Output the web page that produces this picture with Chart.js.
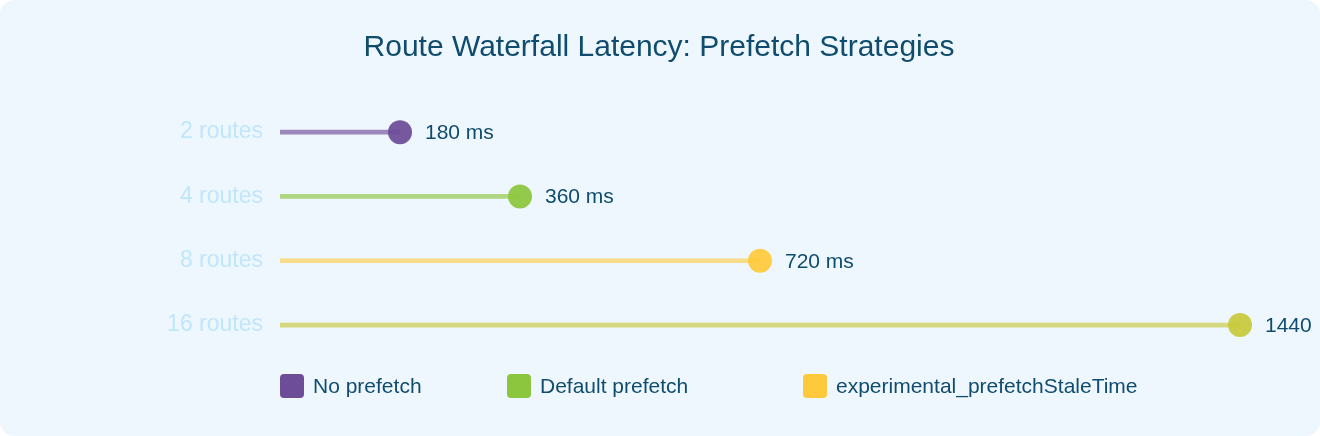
<!DOCTYPE html>
<html>
<head>
<meta charset="utf-8">
<script src="https://cdn.jsdelivr.net/npm/chart.js@4.4.1/dist/chart.umd.min.js"></script>
<style>
  html, body { margin: 0; padding: 0; background: #ffffff; }
  .card {
    position: relative;
    width: 1320px; height: 436px;
    background: #eff7fe;
    border-radius: 14px;
    overflow: hidden;
    font-family: "Liberation Sans", Arial, sans-serif;
  }
  #latencyChart { position: absolute; left: 0; top: 0; width: 1316px; height: 380px; }
  .legend { position: absolute; left: 280px; top: 374px; display: flex; }
  .legend .item { display: flex; align-items: center; font-size: 21px; color: #0f4c6e; height: 24px; }
  .legend .box { width: 24px; height: 24px; border-radius: 4px; margin-right: 9px; flex: none; }
</style>
</head>
<body>
<div class="card">
  <canvas id="latencyChart" width="1316" height="380"></canvas>
  <div class="legend" id="legend"></div>
</div>
<script>
// chart data
const routeCounts = ["2 routes", "4 routes", "8 routes", "16 routes"];
const latencyMs = [180, 360, 720, 1440];
const dotColors = ["#6d4c98", "#8cc63f", "#ffc93c", "#c8c83a"];
const stemColors = ["rgba(109,76,152,0.65)", "rgba(140,198,63,0.65)", "rgba(255,201,60,0.6)", "rgba(200,200,58,0.65)"];
const legendNames = ["No prefetch", "Default prefetch", "experimental_prefetchStaleTime"];
const legendColors = ["#6d4c98", "#8cc63f", "#ffc93c"];
const legendWidths = [227, 296, 420];

const FONT = "'Liberation Sans', Arial, sans-serif";

// value labels next to each dot
const valueLabels = {
    id: "valueLabels",
    afterDatasetsDraw(chart) {
        const ctx = chart.ctx;
        const meta = chart.getDatasetMeta(1);
        ctx.save();
        ctx.font = "21px " + FONT;
        ctx.fillStyle = "#0f4c6e";
        ctx.textBaseline = "middle";
        meta.data.forEach((pt, i) => {
            ctx.fillText(latencyMs[i] + " ms", pt.x + 25, pt.y + 1);
        });
        ctx.restore();
    }
};

let el = document.getElementById("latencyChart").getContext("2d");
let chart = new Chart(el, {
    data: {
        labels: routeCounts,
        datasets: [{
            type: "bar",
            data: latencyMs,
            backgroundColor: stemColors,
            barThickness: 4,
            order: 2
        }, {
            type: "line",
            data: latencyMs,
            showLine: false,
            clip: false,
            pointRadius: 12,
            pointHoverRadius: 12,
            pointBorderWidth: 0,
            pointBackgroundColor: dotColors.map(c => c + "ee"),
            order: 1
        }]
    },
    options: {
        indexAxis: "y",
        responsive: false,
        animation: false,
        layout: { padding: { left: 78, right: 76, top: 0, bottom: 4 } },
        plugins: {
            legend: { display: false },
            tooltip: { enabled: false },
            title: {
                display: true,
                text: "Route Waterfall Latency: Prefetch Strategies",
                color: "#0f4c6e",
                font: { family: FONT, size: 30, weight: "normal", lineHeight: 1.2 },
                padding: { top: 30, bottom: 34 }
            }
        },
        scales: {
            x: { min: 0, max: 1440, display: false },
            y: {
                grid: { display: false },
                border: { display: false },
                ticks: {
                    color: "#bfe6fb",
                    padding: 9,
                    font: { family: FONT, size: 23 }
                },
                afterFit(scale) { scale.width = 202; }
            }
        }
    },
    plugins: [valueLabels]
});

const legend = document.getElementById("legend");
legendNames.forEach((name, i) => {
    const item = document.createElement("div");
    item.className = "item";
    item.style.width = legendWidths[i] + "px";
    item.innerHTML = '<span class="box" style="background:' + legendColors[i] + '"></span>' + name;
    legend.appendChild(item);
});
</script>
</body>
</html>
